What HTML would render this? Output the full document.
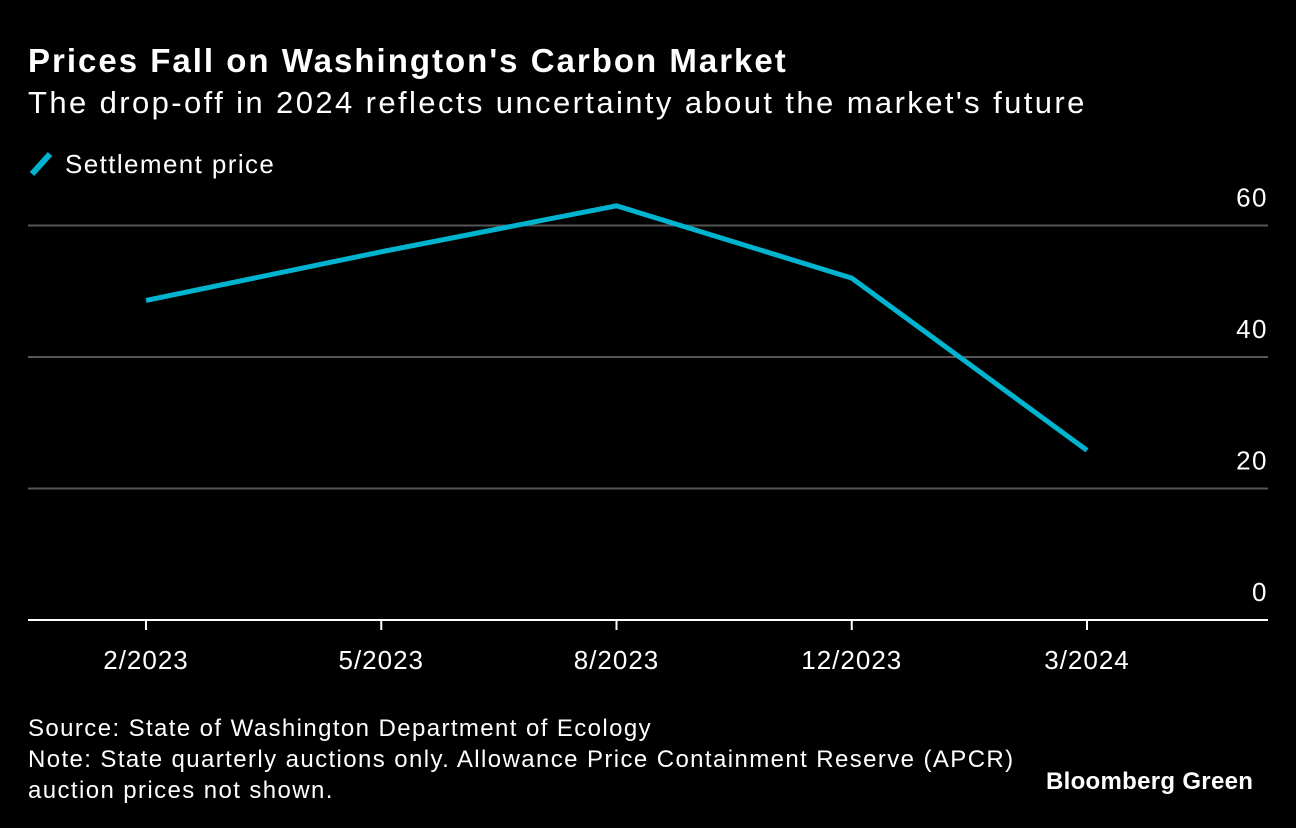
<!DOCTYPE html>
<html><head><meta charset="utf-8">
<style>
body{margin:0;background:#000;width:1296px;height:828px;overflow:hidden;font-family:"Liberation Sans",sans-serif;color:#fff;position:relative}
.t{position:absolute;white-space:nowrap}
</style></head><body>
<div class="t" style="left:28px;top:42px;font-size:33px;font-weight:bold;letter-spacing:2px">Prices Fall on Washington's Carbon Market</div>
<div class="t" style="left:28px;top:85px;font-size:31px;letter-spacing:2.4px">The drop-off in 2024 reflects uncertainty about the market's future</div>
<div class="t" style="left:28px;top:149px;font-size:26px;letter-spacing:1.4px"><svg width="28" height="28" style="vertical-align:-5px;margin-right:9px"><line x1="4" y1="24" x2="22" y2="4" stroke="#00b4d0" stroke-width="6"/></svg>Settlement price</div>
<svg id="chart" width="1296" height="828" style="position:absolute;left:0;top:0"></svg>
<div class="t" style="left:28px;top:713px;font-size:24px;line-height:31px;letter-spacing:1.4px">Source: State of Washington Department of Ecology<br>Note: State quarterly auctions only. Allowance Price Containment Reserve (APCR)<br>auction prices not shown.</div>
<div class="t" style="left:1046px;top:768px;font-size:24px;font-weight:bold;letter-spacing:0.3px">Bloomberg Green</div>
<script>
const categories=["2/2023","5/2023","8/2023","12/2023","3/2024"];
const prices=[48.6,56,63,52,25.8];
const yTicks=[0,20,40,60];
const svg=document.getElementById('chart');
const NS='http://www.w3.org/2000/svg';
const y=v=>620-v*6.575;
const x=i=>146+i*235.25;
function mk(t,a){const e=document.createElementNS(NS,t);for(const k in a)e.setAttribute(k,a[k]);svg.appendChild(e);return e;}
yTicks.forEach(v=>{
 if(v>0){const g=mk('line',{x1:28,x2:1268,y1:y(v),y2:y(v),stroke:'#555','stroke-width':2});
 
 }
 const t=mk('text',{x:1268,y:y(v)-19,'text-anchor':'end','font-size':26,'letter-spacing':1.5,fill:'#fff'});
 t.textContent=v;
 
 
});
const b=mk('line',{x1:28,x2:1268,y1:620,y2:620,stroke:'#fff','stroke-width':2});


categories.forEach((c,i)=>{
 const k=mk('line',{x1:x(i),x2:x(i),y1:620,y2:630,stroke:'#fff','stroke-width':2});
 
 
 const t=mk('text',{x:x(i),y:669,'text-anchor':'middle','font-size':26,'letter-spacing':1,fill:'#fff'});
 t.textContent=c;
 
 
});
const p=mk('polyline',{points:prices.map((v,i)=>x(i)+','+y(v)).join(' '),fill:'none',stroke:'#00b4d0','stroke-width':5,'stroke-linejoin':'miter'});


</script>
</body></html>
